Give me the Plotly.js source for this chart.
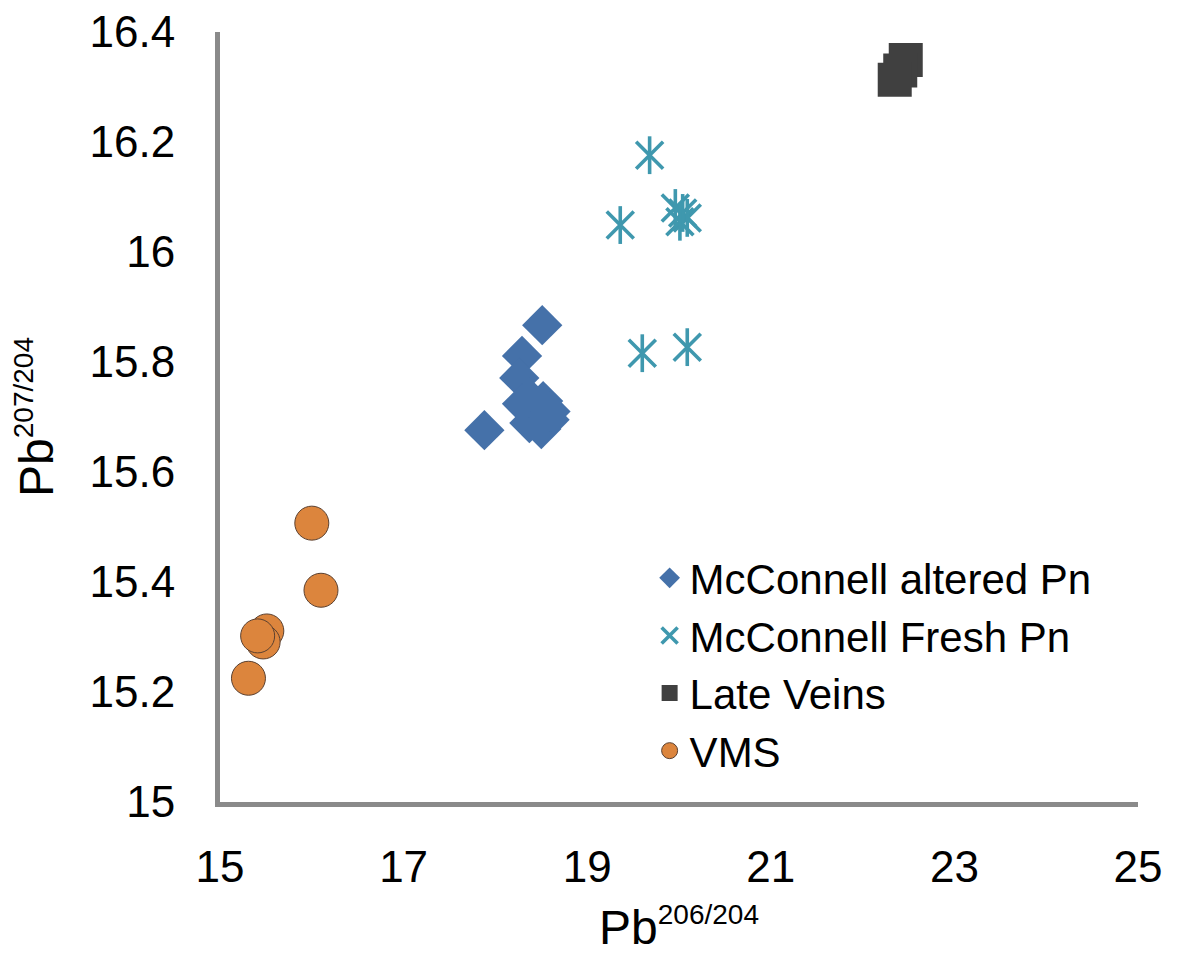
<!DOCTYPE html>
<html>
<head>
<meta charset="utf-8">
<script src="https://cdn.plot.ly/plotly-3.0.1.min.js"></script>
<style>html,body{margin:0;padding:0;background:#fff;}#chart{width:1179px;height:965px;}</style>
</head>
<body>
<div id="chart"></div>
<script>
// Data
const alteredX = [18.51, 18.29, 18.26, 18.52, 18.29, 18.59, 18.37, 18.50, 17.88, 18.37, 18.60];
const alteredY = [15.867, 15.811, 15.771, 15.729, 15.724, 15.695, 15.689, 15.678, 15.676, 15.735, 15.710];

const freshX = [19.68, 19.36, 19.60, 20.09, 19.96, 20.04, 20.09, 20.01];
const freshY = [16.176, 16.049, 15.816, 15.827, 16.080, 16.071, 16.062, 16.055];

const veinsX = [22.47, 22.41, 22.35];
const veinsY = [16.349, 16.330, 16.313];

const vmsX = [16.00, 16.10, 15.51, 15.47, 15.41, 15.31];
const vmsY = [15.507, 15.385, 15.311, 15.291, 15.302, 15.225];

const seriesNames = ['McConnell altered Pn', 'McConnell Fresh Pn', 'Late Veins', 'VMS'];
const xTicks = [15, 17, 19, 21, 23, 25];
const yTicks = [15, 15.2, 15.4, 15.6, 15.8, 16, 16.2, 16.4];

const FONT = '"Liberation Sans", Arial, sans-serif';
const TEAL = '#3f98ae';

const traces = [
  {x: alteredX, y: alteredY, name: seriesNames[0], type: 'scatter', mode: 'markers',
   marker: {symbol: 'diamond', size: 31, color: '#4571a9', line: {width: 0}}},
  {x: freshX, y: freshY, name: seriesNames[1], type: 'scatter', mode: 'markers',
   marker: {symbol: 'x-thin-open', size: 27, color: TEAL, line: {width: 3.6, color: TEAL}}},
  {x: freshX, y: freshY, name: seriesNames[1], type: 'scatter', mode: 'markers', showlegend: false,
   marker: {symbol: 'line-ns-open', size: 27, color: TEAL, line: {width: 3.6, color: TEAL}}},
  {x: veinsX, y: veinsY, name: seriesNames[2], type: 'scatter', mode: 'markers',
   marker: {symbol: 'square', size: 34, color: '#404040', line: {width: 0}}},
  {x: vmsX, y: vmsY, name: seriesNames[3], type: 'scatter', mode: 'markers',
   marker: {symbol: 'circle', size: 34, color: '#dc853d', line: {width: 1, color: '#5a4030'}}}
];

const layout = {
  width: 1179, height: 965,
  paper_bgcolor: '#ffffff', plot_bgcolor: '#ffffff',
  margin: {l: 220, r: 41, t: 32, b: 163},
  font: {family: FONT, color: '#000000', size: 44},
  showlegend: true,
  legend: {x: 0.468, y: 0.335, xanchor: 'left', yanchor: 'top',
           font: {family: FONT, size: 42, color: '#000'}, bgcolor: 'rgba(0,0,0,0)',
           tracegroupgap: 0, itemwidth: 30},
  xaxis: {
    range: [15, 25], tickvals: xTicks, ticktext: xTicks.map(String),
    showgrid: false, zeroline: false, showline: true, linecolor: '#8a8a8a', linewidth: 5,
    ticks: '', ticklabelstandoff: 22,
    tickfont: {family: FONT, size: 44, color: '#000'},
    title: {text: 'Pb<sup><span style="font-size:28px">206/204</span></sup>', font: {family: FONT, size: 48, color: '#000'}, standoff: 22},
    automargin: false
  },
  yaxis: {
    range: [15, 16.4], tickvals: yTicks, ticktext: yTicks.map(v => String(v)),
    showgrid: false, zeroline: false, showline: true, linecolor: '#8a8a8a', linewidth: 5,
    ticks: '', ticklabelstandoff: 31,
    tickfont: {family: FONT, size: 44, color: '#000'},
    title: {text: 'Pb<sup><span style="font-size:28px">207/204</span></sup>', font: {family: FONT, size: 48, color: '#000'}, standoff: 22},
    automargin: false
  }
};

Plotly.newPlot('chart', traces, layout, {displayModeBar: false, staticPlot: true});
</script>
</body>
</html>
